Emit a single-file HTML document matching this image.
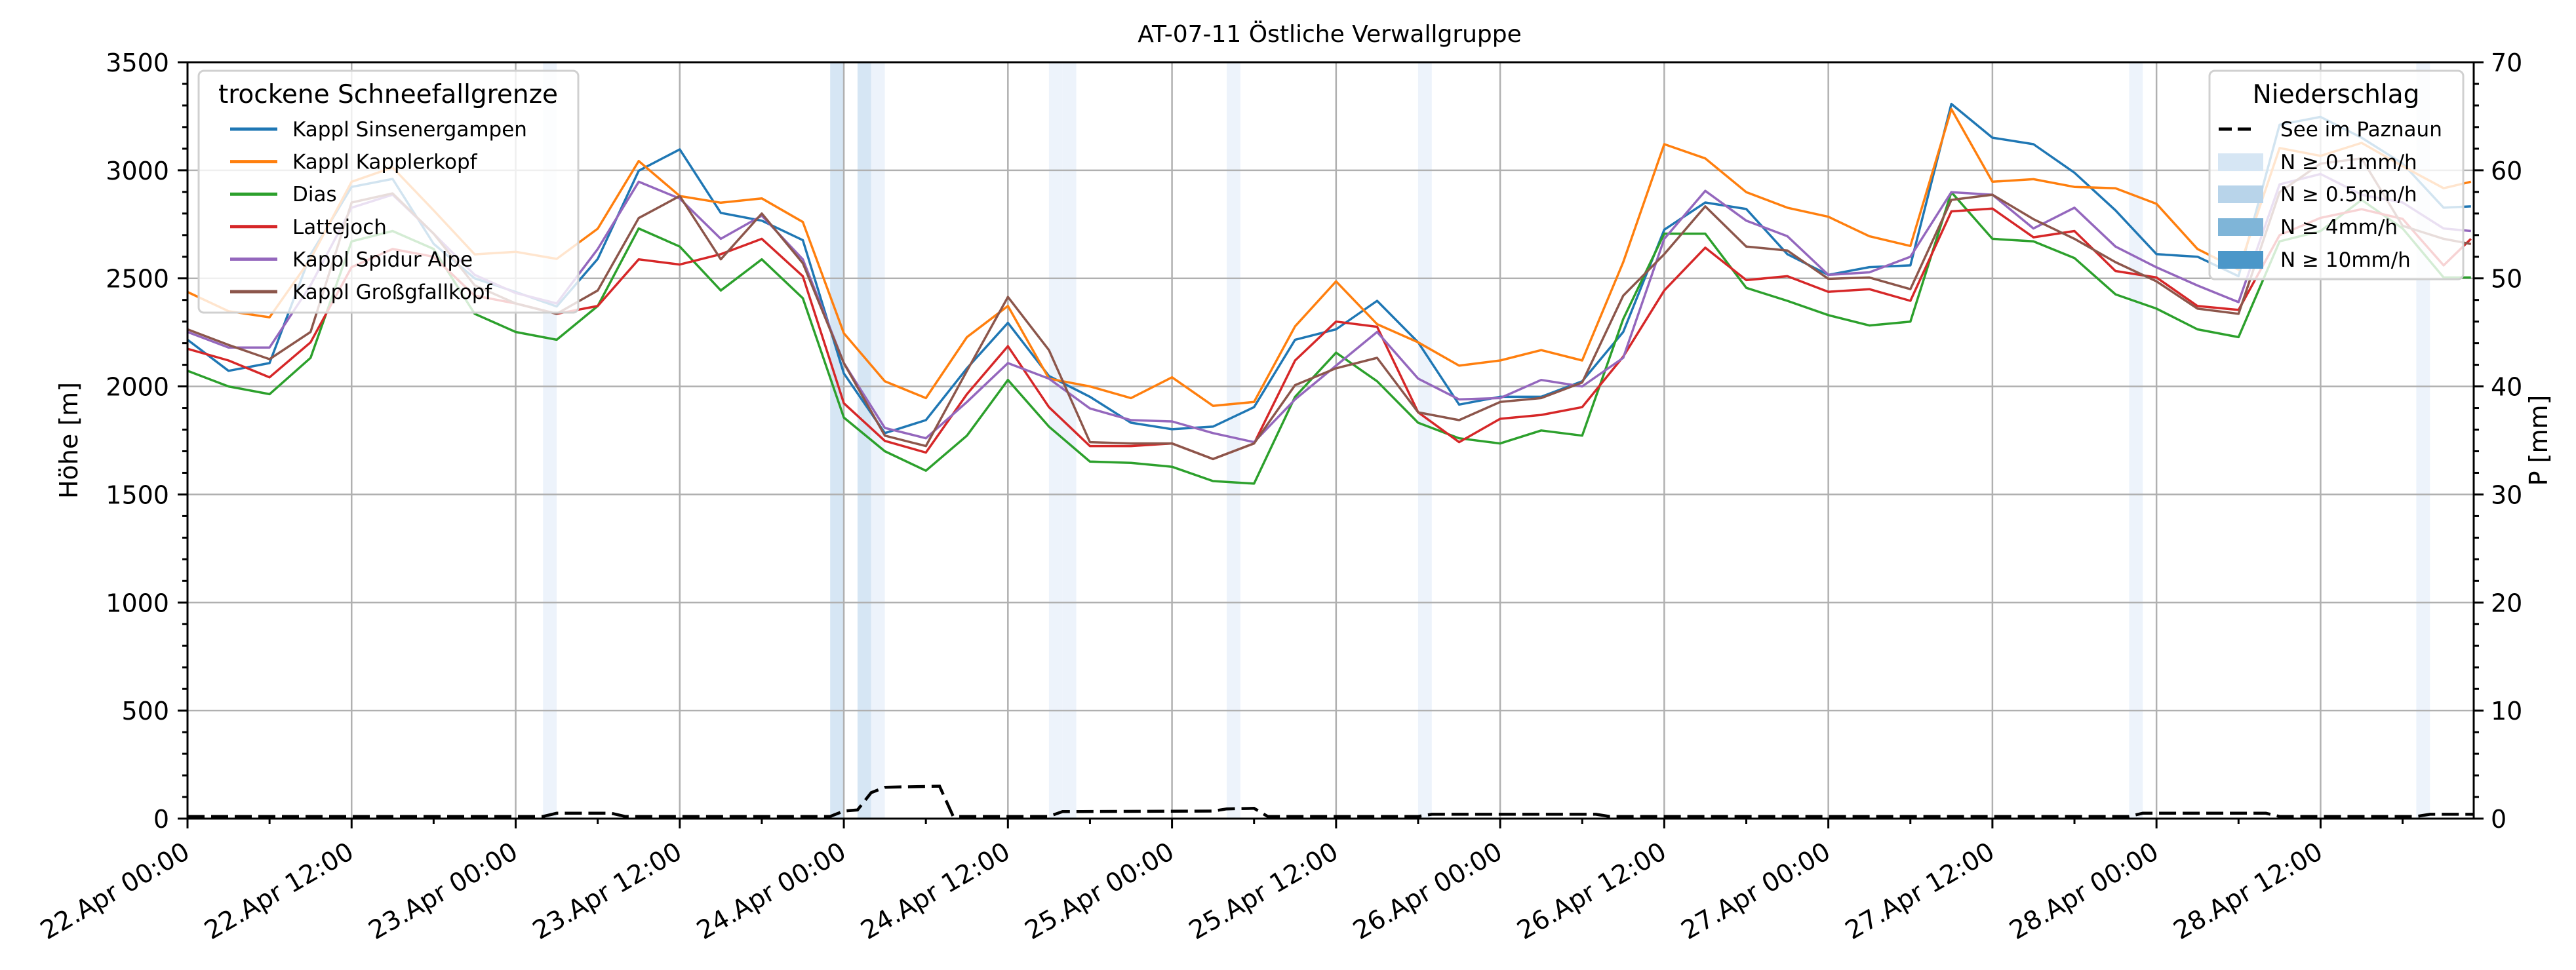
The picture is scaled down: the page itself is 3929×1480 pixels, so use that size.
<!DOCTYPE html>
<html><head><meta charset="utf-8">
<style>
html,body{margin:0;padding:0;background:#fff;}
svg{display:block;font-family:"DejaVu Sans","Liberation Sans",sans-serif;}
</style></head>
<body>
<svg id="chart" width="3929" height="1480" viewBox="0 0 3929 1480" xmlns="http://www.w3.org/2000/svg">
<rect width="3929" height="1480" fill="#fff"/>
<g id="bands"></g>
<g id="grid"></g>
<g id="series"></g>
<g id="axes"></g>
<text x="2028" y="64" font-size="36" text-anchor="middle">AT-07-11 Östliche Verwallgruppe</text>
<text transform="translate(118,672) rotate(-90)" font-size="38" text-anchor="middle">Höhe [m]</text>
<text transform="translate(3885,672) rotate(-90)" font-size="38" text-anchor="middle">P [mm]</text>
<g>
<rect x="303" y="108" width="579" height="369" rx="8" fill="#fff" fill-opacity="0.8" stroke="#d0d0d0" stroke-width="3"/>
<text x="592" y="157" font-size="39" text-anchor="middle">trockene Schneefallgrenze</text>
<g id="leg1"></g>
</g>
<g>
<rect x="3370" y="108" width="387" height="318" rx="8" fill="#fff" fill-opacity="0.8" stroke="#d0d0d0" stroke-width="3"/>
<text x="3563" y="157" font-size="39" text-anchor="middle">Niederschlag</text>
<line x1="3384" y1="197" x2="3440" y2="197" stroke="#000" stroke-width="5" stroke-dasharray="20,9"/>
<text x="3478" y="208" font-size="31">See im Paznaun</text>
<rect x="3383" y="234" width="69" height="27" fill="#d6e6f4"/>
<text x="3478" y="258" font-size="31">N ≥ 0.1mm/h</text>
<rect x="3383" y="283" width="69" height="27" fill="#b8d4ea"/>
<text x="3478" y="307" font-size="31">N ≥ 0.5mm/h</text>
<rect x="3383" y="333" width="69" height="27" fill="#7fb5d8"/>
<text x="3478" y="357" font-size="31">N ≥ 4mm/h</text>
<rect x="3383" y="383" width="69" height="27" fill="#4b97c9"/>
<text x="3478" y="407" font-size="31">N ≥ 10mm/h</text>
</g>
</svg>
<script>
const hours = [0,3,6,9,12,15,18,21,24,27,30,33,36,39,42,45,48,51,54,57,60,63,66,69,72,75,78,81,84,87,90,93,96,99,102,105,108,111,114,117,120,123,126,129,132,135,138,141,144,147,150,153,156,159,162,165,167];
const sinsenergampen = [2216,2072,2108,2610,2923,2960,2660,2500,2437,2370,2590,2998,3097,2803,2767,2677,2060,1784,1844,2084,2294,2048,1952,1832,1802,1814,1904,2216,2264,2396,2204,1916,1952,1952,2024,2252,2725,2851,2821,2612,2516,2552,2560,3307,3151,3121,2989,2815,2612,2600,2510,3211,3247,3151,3031,2827,2833];
const kapplerkopf = [2437,2348,2320,2590,2947,3013,2815,2611,2623,2590,2730,3043,2881,2850,2870,2761,2246,2024,1946,2228,2372,2036,2000,1946,2042,1910,1928,2278,2486,2288,2204,2096,2120,2168,2120,2575,3121,3055,2899,2827,2785,2695,2650,3283,2947,2959,2923,2917,2845,2636,2540,3103,3067,3127,3019,2917,2947];
const dias = [2072,2000,1964,2132,2671,2719,2636,2336,2252,2216,2372,2731,2647,2444,2588,2408,1856,1700,1610,1772,2030,1814,1652,1646,1628,1562,1550,1952,2156,2024,1832,1760,1736,1796,1772,2312,2707,2707,2456,2396,2330,2282,2300,2899,2683,2671,2594,2426,2360,2264,2228,2671,2719,2863,2731,2504,2504];
const lattejoch = [2174,2120,2042,2204,2552,2636,2600,2420,2384,2336,2372,2588,2564,2612,2683,2510,1922,1748,1694,1964,2186,1904,1724,1724,1736,1664,1736,2120,2300,2276,1880,1742,1850,1868,1904,2138,2444,2642,2492,2510,2438,2450,2396,2810,2823,2690,2719,2534,2504,2372,2354,2700,2780,2820,2775,2560,2683];
const spidurAlpe = [2252,2180,2180,2468,2827,2887,2707,2516,2432,2384,2636,2947,2869,2683,2790,2588,2108,1808,1760,1928,2108,2036,1898,1844,1838,1784,1742,1940,2096,2252,2036,1940,1946,2030,2000,2132,2683,2905,2767,2695,2516,2528,2600,2899,2887,2731,2827,2647,2551,2467,2390,2935,2983,2887,2851,2731,2719];
const grossgfallkopf = [2264,2192,2126,2252,2851,2893,2707,2468,2384,2336,2444,2779,2881,2588,2800,2570,2108,1772,1724,2072,2414,2168,1742,1736,1736,1664,1736,2006,2084,2132,1880,1844,1928,1946,2018,2420,2612,2833,2647,2629,2498,2504,2450,2863,2887,2774,2683,2575,2486,2360,2336,2899,3031,3055,2743,2683,2659];
const seriesNames = ["Kappl Sinsenergampen","Kappl Kapplerkopf","Dias","Lattejoch","Kappl Spidur Alpe","Kappl Großgfallkopf"];
const seriesColors = ["#1f77b4","#ff7f0e","#2ca02c","#d62728","#9467bd","#8c564b"];
const precipHours = [0,26,27,31,32,47,48,49,50,51,55,56,63,64,75,76,78,79,90,91,103,104,142,143,152,153,163,164,167.2];
const precipValues = [0.2,0.2,0.5,0.5,0.2,0.2,0.7,0.8,2.4,2.9,3.0,0.2,0.2,0.65,0.7,0.9,0.95,0.2,0.2,0.4,0.4,0.2,0.2,0.5,0.5,0.2,0.2,0.4,0.4];
const bandStarts = [26,47,49,50,63,64,76,90,142,163];
const bandLevels = [0,1,1,0,0,0,0,0,0,0];
const xTickLabels = ["22.Apr 00:00","22.Apr 12:00","23.Apr 00:00","23.Apr 12:00","24.Apr 00:00","24.Apr 12:00","25.Apr 00:00","25.Apr 12:00","26.Apr 00:00","26.Apr 12:00","27.Apr 00:00","27.Apr 12:00","28.Apr 00:00","28.Apr 12:00"];
const yTicks = [0,500,1000,1500,2000,2500,3000,3500];
const y2Ticks = [0,10,20,30,40,50,60,70];

const NS = "http://www.w3.org/2000/svg";
const L = 286, R = 3773, T = 95, B = 1249, HMAX = 167.2;
function xs(h){ return L + h * (R - L) / HMAX; }
function ys(v){ return B - v * (B - T) / 3500; }
function y2s(v){ return B - v * (B - T) / 70; }
function mk(tag, attrs, parent){ const e = document.createElementNS(NS, tag); for (const k in attrs) e.setAttribute(k, attrs[k]); parent.appendChild(e); return e; }

const bandsG = document.getElementById('bands');
bandStarts.forEach((h, i) => {
  const r = mk('rect', {x: xs(h), y: T, width: xs(h + 1) - xs(h), height: B - T, fill: bandLevels[i] ? '#d6e6f4' : '#edf3fb'}, bandsG);
  
  
});

const gridG = document.getElementById('grid');
for (let i = 0; i < xTickLabels.length; i++) {
  const x = xs(i * 12);
  const g = mk('line', {x1: x, x2: x, y1: T, y2: B, stroke: '#b0b0b0', 'stroke-width': 2.5}, gridG);
  
  
}
yTicks.forEach(v => {
  const y = ys(v);
  const g = mk('line', {x1: L, x2: R, y1: y, y2: y, stroke: '#b0b0b0', 'stroke-width': 2.5}, gridG);
  
  
});

const serG = document.getElementById('series');
const allSeries = [sinsenergampen, kapplerkopf, dias, lattejoch, spidurAlpe, grossgfallkopf];
allSeries.forEach((vals, si) => {
  const pts = vals.map((v, i) => xs(hours[i]).toFixed(1) + ',' + ys(v).toFixed(1)).join(' ');
  const p = mk('polyline', {points: pts, fill: 'none', stroke: seriesColors[si], 'stroke-width': 3.5, 'stroke-linejoin': 'round'}, serG);
  
  
});
const pp = precipValues.map((v, i) => xs(precipHours[i]).toFixed(1) + ',' + y2s(v).toFixed(1)).join(' ');
const pl = mk('polyline', {points: pp, fill: 'none', stroke: '#000', 'stroke-width': 4.5, 'stroke-dasharray': '26,10'}, serG);



const axG = document.getElementById('axes');
const frame = mk('rect', {x: L, y: T, width: R - L, height: B - T, fill: 'none', stroke: '#000', 'stroke-width': 3}, axG);


for (let h = 0; h <= HMAX; h += 6) {
  const x = xs(h);
  const major = h % 12 === 0;
  mk('line', {x1: x, x2: x, y1: B, y2: B + (major ? 15 : 8), stroke: '#000', 'stroke-width': 3}, axG);
}
xTickLabels.forEach((lab, i) => {
  const x = xs(i * 12);
  const t = mk('text', {transform: `translate(${x - 8},${B + 34}) rotate(-30)`, 'font-size': 39, 'text-anchor': 'end', 'dominant-baseline': 'hanging'}, axG);
  t.textContent = lab;
  
  
});
for (let v = 0; v <= 3500; v += 100) {
  const y = ys(v);
  const major = v % 500 === 0;
  mk('line', {x1: L - (major ? 15 : 8), x2: L, y1: y, y2: y, stroke: '#000', 'stroke-width': 3}, axG);
}
yTicks.forEach(v => {
  const t = mk('text', {x: L - 28, y: ys(v) + 14, 'font-size': 38, 'text-anchor': 'end'}, axG);
  t.textContent = v;
  
  
});
for (let v = 0; v <= 70; v += 2) {
  const y = y2s(v);
  const major = v % 10 === 0;
  mk('line', {x1: R, x2: R + (major ? 15 : 8), y1: y, y2: y, stroke: '#000', 'stroke-width': 3}, axG);
}
y2Ticks.forEach(v => {
  const t = mk('text', {x: R + 26, y: y2s(v) + 14, 'font-size': 38, 'text-anchor': 'start'}, axG);
  t.textContent = v;
  
  
});

const leg = document.getElementById('leg1');
seriesNames.forEach((n, i) => {
  const y = 197 + i * 49.6;
  const ln = mk('line', {x1: 351, x2: 423, y1: y, y2: y, stroke: seriesColors[i], 'stroke-width': 5}, leg);
  
  
  const t = mk('text', {x: 446, y: y + 11, 'font-size': 31}, leg);
  t.textContent = n;
  
  
});
</script>
</body></html>
